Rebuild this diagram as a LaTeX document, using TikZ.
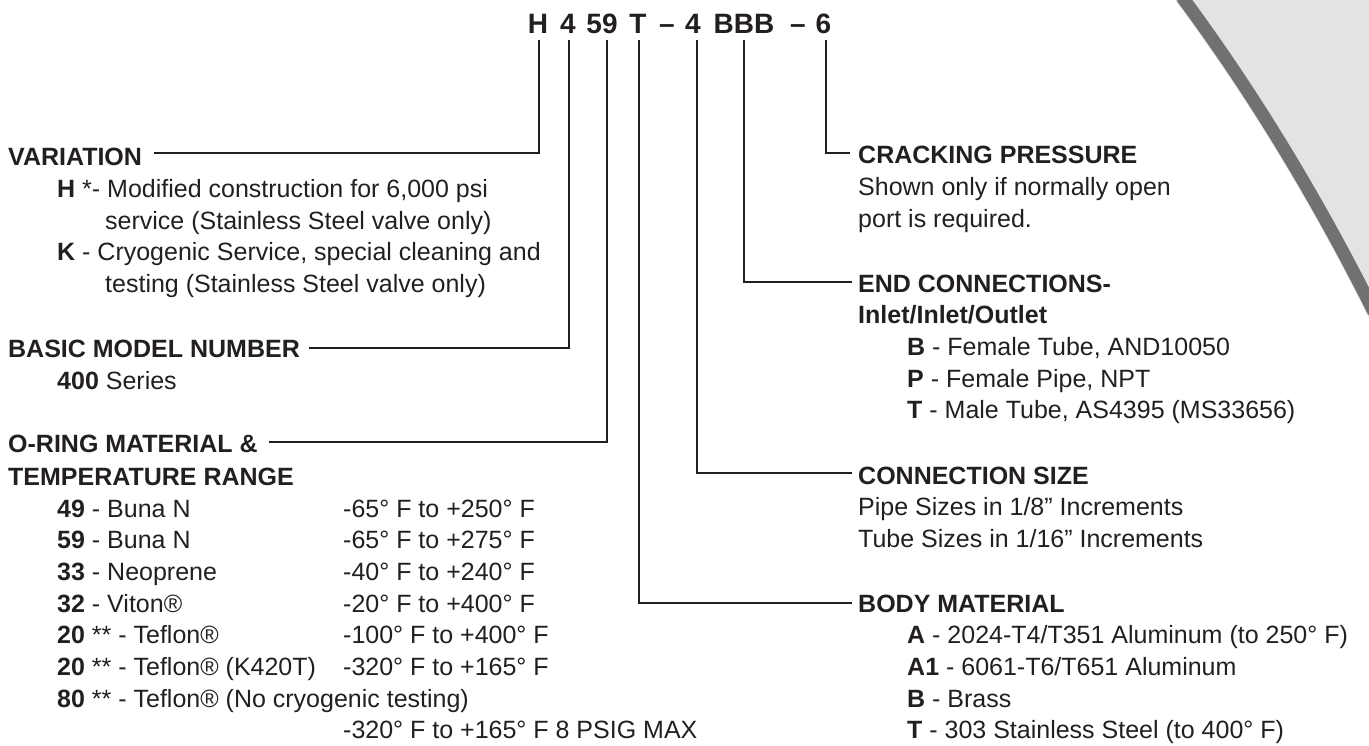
\documentclass[tikz,border=0pt]{standalone}
\usepackage{fontspec}
\setmainfont{Liberation Sans}
\usetikzlibrary{calc}
\definecolor{ink}{HTML}{231F20}
\definecolor{bandgray}{HTML}{717171}
\definecolor{lightgray}{HTML}{E3E3E3}
\tikzset{
  txt/.style={anchor=base west, inner sep=0pt, text=ink, font=\fontsize{25}{30}\selectfont},
  hdr/.style={anchor=base west, inner sep=0pt, text=ink, font=\fontsize{25}{30}\selectfont\bfseries},
  ttl/.style={anchor=base, inner sep=0pt, text=ink, font=\fontsize{28}{32}\selectfont\bfseries},
  conn/.style={draw=ink, line width=2.5pt},
}
\begin{document}
\begin{tikzpicture}[x=1pt,y=-1pt]
\useasboundingbox (0,0) rectangle (1369,745);
% corner decoration
\begin{scope}
\clip (0,0) rectangle (1369,745);
\fill[lightgray] (1175,0) .. controls (1247,96) and (1311,203) .. (1369,318) -- (1400,318) -- (1400,-5) -- cycle;
\draw[bandgray, line width=13pt] (1182,-3) .. controls (1254,94) and (1318,200) .. (1374,312);
\end{scope}

% title characters
\node[ttl] (tH)  at (538,33) {H};
\node[ttl] (t4a) at (568,33) {4};
\node[ttl] (t59) at (602,33) {59};
\node[ttl] (tT)  at (638,33) {T};
\node[ttl] (td1) at (667,33) {–};
\node[ttl] (t4b) at (693,33) {4};
\node[ttl] (tB)  at (744,33) {BBB};
\node[ttl] (td2) at (798,33) {–};
\node[ttl] (t6)  at (823.5,33) {6};

% left column
\node[hdr] (variation) at (8,165) {VARIATION};
\node[txt] (v1) at (57,197) {\textbf{H} *- Modified construction for 6,000 psi};
\node[txt] (v2) at (105,229) {service (Stainless Steel valve only)};
\node[txt] (v3) at (57,260) {\textbf{K} - Cryogenic Service, special cleaning and};
\node[txt] (v4) at (105,292) {testing (Stainless Steel valve only)};

\node[hdr] (basic) at (8,357) {BASIC MODEL NUMBER};
\node[txt] (b1) at (57,389) {\textbf{400} Series};

\node[hdr] (oring) at (8,452) {O-RING MATERIAL \&};
\node[hdr] (oring2) at (8,485) {TEMPERATURE RANGE};
\node[txt] (o1) at (57,517) {\textbf{49} - Buna N};
\node[txt] (o1t) at (343,517) {-65° F to +250° F};
\node[txt] (o2) at (57,548) {\textbf{59} - Buna N};
\node[txt] (o2t) at (343,548) {-65° F to +275° F};
\node[txt] (o3) at (57,580) {\textbf{33} - Neoprene};
\node[txt] (o3t) at (343,580) {-40° F to +240° F};
\node[txt] (o4) at (57,612) {\textbf{32} - Viton®};
\node[txt] (o4t) at (343,612) {-20° F to +400° F};
\node[txt] (o5) at (57,643) {\textbf{20} ** - Teflon®};
\node[txt] (o5t) at (343,643) {-100° F to +400° F};
\node[txt] (o6) at (57,675) {\textbf{20} ** - Teflon® (K420T)};
\node[txt] (o6t) at (343,675) {-320° F to +165° F};
\node[txt] (o7) at (57,707) {\textbf{80} ** - Teflon® (No cryogenic testing)};
\node[txt] (o7t) at (343,738) {-320° F to +165° F 8 PSIG MAX};

% right column
\node[hdr] (crack) at (858,163) {CRACKING PRESSURE};
\node[txt] (c1) at (858,195) {Shown only if normally open};
\node[txt] (c2) at (858,227) {port is required.};

\node[hdr] (endc) at (858,292) {END CONNECTIONS-};
\node[hdr] (endc2) at (858,323) {Inlet/Inlet/Outlet};
\node[txt] (e1) at (907,355) {\textbf{B} - Female Tube, AND10050};
\node[txt] (e2) at (907,387) {\textbf{P} - Female Pipe, NPT};
\node[txt] (e3) at (907,418) {\textbf{T} - Male Tube, AS4395 (MS33656)};

\node[hdr] (csize) at (858,484) {CONNECTION SIZE};
\node[txt] (s1) at (858,515) {Pipe Sizes in 1/8” Increments};
\node[txt] (s2) at (858,547) {Tube Sizes in 1/16” Increments};

\node[hdr] (body) at (858,612) {BODY MATERIAL};
\node[txt] (m1) at (907,643) {\textbf{A} - 2024-T4/T351 Aluminum (to 250° F)};
\node[txt] (m2) at (907,675) {\textbf{A1} - 6061-T6/T651 Aluminum};
\node[txt] (m3) at (907,707) {\textbf{B} - Brass};
\node[txt] (m4) at (907,738) {\textbf{T} - 303 Stainless Steel (to 400° F)};

% connector end points
\coordinate (eVar)   at ($(variation.base east)+(12,-12)$);
\coordinate (eBasic) at ($(basic.base east)+(9,-9)$);
\coordinate (eOring) at ($(oring.base east)+(11,-10)$);
\coordinate (eCrack) at ($(crack.base west)+(-8,-10)$);
\coordinate (eEnd)   at ($(endc.base west)+(-6,-10)$);
\coordinate (eSize)  at ($(csize.base west)+(-6,-11)$);
\coordinate (eBody)  at ($(body.base west)+(-6,-9)$);

% connectors
\draw[conn] ([xshift=1pt,yshift=-7pt]tH.south) |- (eVar);
\draw[conn] ([xshift=1pt,yshift=-7pt]t4a.south) |- (eBasic);
\draw[conn] ([xshift=5pt,yshift=-7pt]t59.south) |- (eOring);
\draw[conn] ([xshift=1pt,yshift=-7pt]tT.south) |- (eBody);
\draw[conn] ([xshift=4pt,yshift=-7pt]t4b.south) |- (eSize);
\draw[conn] ([yshift=-7pt]tB.south) |- (eEnd);
\draw[conn] ([xshift=2.5pt,yshift=-7pt]t6.south) |- (eCrack);
\end{tikzpicture}
\end{document}
